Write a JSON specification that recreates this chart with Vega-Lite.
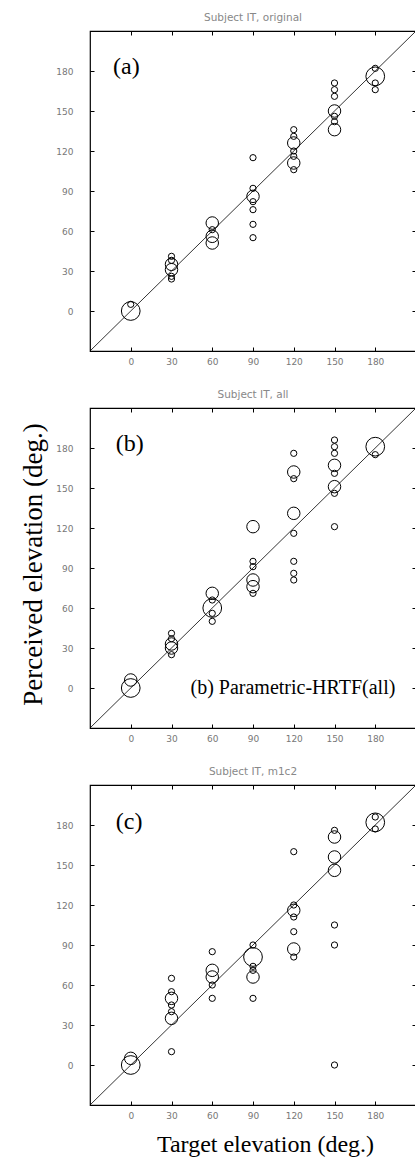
{
  "$schema": "https://vega.github.io/schema/vega-lite/v6.json",
  "background": "white",
  "padding": {"left": 18, "top": 12, "right": 0, "bottom": 0},
  "config": {
    "view": {"stroke": "black", "strokeWidth": 1.2},
    "axis": {"grid": false, "domain": false, "labelFont": "DejaVu Sans", "labelFontSize": 9, "labelColor": "#777", "tickColor": "black", "titleFont": "Liberation Serif", "titleFontWeight": "normal", "titleColor": "black"},
    "title": {"font": "DejaVu Sans", "fontSize": 10.5, "fontWeight": "normal", "color": "#888", "offset": 7}
  },
  "datasets": {
    "a": [
      {"t": 0, "p": 0, "n": 3}, {"t": 0, "p": 5, "n": 1},
      {"t": 30, "p": 41, "n": 1}, {"t": 30, "p": 38, "n": 1}, {"t": 30, "p": 35, "n": 2}, {"t": 30, "p": 31, "n": 2}, {"t": 30, "p": 26, "n": 1}, {"t": 30, "p": 24, "n": 1},
      {"t": 60, "p": 66, "n": 2}, {"t": 60, "p": 61, "n": 1}, {"t": 60, "p": 56, "n": 2}, {"t": 60, "p": 51, "n": 2},
      {"t": 90, "p": 115, "n": 1}, {"t": 90, "p": 92, "n": 1}, {"t": 90, "p": 86, "n": 2}, {"t": 90, "p": 82, "n": 1}, {"t": 90, "p": 76, "n": 1}, {"t": 90, "p": 65, "n": 1}, {"t": 90, "p": 55, "n": 1},
      {"t": 120, "p": 136, "n": 1}, {"t": 120, "p": 131, "n": 1}, {"t": 120, "p": 126, "n": 2}, {"t": 120, "p": 120, "n": 1}, {"t": 120, "p": 116, "n": 1}, {"t": 120, "p": 111, "n": 2}, {"t": 120, "p": 106, "n": 1},
      {"t": 150, "p": 171, "n": 1}, {"t": 150, "p": 166, "n": 1}, {"t": 150, "p": 161, "n": 1}, {"t": 150, "p": 150, "n": 2}, {"t": 150, "p": 146, "n": 1}, {"t": 150, "p": 142, "n": 1}, {"t": 150, "p": 136, "n": 2},
      {"t": 180, "p": 182, "n": 1}, {"t": 180, "p": 176, "n": 3}, {"t": 180, "p": 171, "n": 1}, {"t": 180, "p": 166, "n": 1}
    ],
    "b": [
      {"t": 0, "p": 0, "n": 3}, {"t": 0, "p": 6, "n": 2},
      {"t": 30, "p": 41, "n": 1}, {"t": 30, "p": 37, "n": 1}, {"t": 30, "p": 33, "n": 2}, {"t": 30, "p": 30, "n": 2}, {"t": 30, "p": 25, "n": 1},
      {"t": 60, "p": 71, "n": 2}, {"t": 60, "p": 66, "n": 1}, {"t": 60, "p": 60, "n": 3}, {"t": 60, "p": 56, "n": 1}, {"t": 60, "p": 50, "n": 1},
      {"t": 90, "p": 121, "n": 2}, {"t": 90, "p": 95, "n": 1}, {"t": 90, "p": 91, "n": 1}, {"t": 90, "p": 81, "n": 2}, {"t": 90, "p": 76, "n": 2}, {"t": 90, "p": 71, "n": 1},
      {"t": 120, "p": 176, "n": 1}, {"t": 120, "p": 162, "n": 2}, {"t": 120, "p": 157, "n": 1}, {"t": 120, "p": 131, "n": 2}, {"t": 120, "p": 116, "n": 1}, {"t": 120, "p": 95, "n": 1}, {"t": 120, "p": 86, "n": 1}, {"t": 120, "p": 81, "n": 1},
      {"t": 150, "p": 186, "n": 1}, {"t": 150, "p": 181, "n": 1}, {"t": 150, "p": 176, "n": 1}, {"t": 150, "p": 167, "n": 2}, {"t": 150, "p": 161, "n": 1}, {"t": 150, "p": 151, "n": 2}, {"t": 150, "p": 146, "n": 1}, {"t": 150, "p": 121, "n": 1},
      {"t": 180, "p": 181, "n": 3}, {"t": 180, "p": 175, "n": 1}
    ],
    "c": [
      {"t": 0, "p": 0, "n": 3}, {"t": 0, "p": 5, "n": 2},
      {"t": 30, "p": 65, "n": 1}, {"t": 30, "p": 55, "n": 1}, {"t": 30, "p": 50, "n": 2}, {"t": 30, "p": 45, "n": 1}, {"t": 30, "p": 40, "n": 1}, {"t": 30, "p": 35, "n": 2}, {"t": 30, "p": 10, "n": 1},
      {"t": 60, "p": 85, "n": 1}, {"t": 60, "p": 71, "n": 2}, {"t": 60, "p": 66, "n": 2}, {"t": 60, "p": 60, "n": 1}, {"t": 60, "p": 50, "n": 1},
      {"t": 90, "p": 90, "n": 1}, {"t": 90, "p": 81, "n": 3}, {"t": 90, "p": 74, "n": 1}, {"t": 90, "p": 71, "n": 1}, {"t": 90, "p": 66, "n": 2}, {"t": 90, "p": 50, "n": 1},
      {"t": 120, "p": 160, "n": 1}, {"t": 120, "p": 120, "n": 1}, {"t": 120, "p": 116, "n": 2}, {"t": 120, "p": 111, "n": 1}, {"t": 120, "p": 100, "n": 1}, {"t": 120, "p": 87, "n": 2}, {"t": 120, "p": 81, "n": 1},
      {"t": 150, "p": 176, "n": 1}, {"t": 150, "p": 171, "n": 2}, {"t": 150, "p": 156, "n": 2}, {"t": 150, "p": 146, "n": 2}, {"t": 150, "p": 105, "n": 1}, {"t": 150, "p": 90, "n": 1}, {"t": 150, "p": 0, "n": 1},
      {"t": 180, "p": 182, "n": 3}, {"t": 180, "p": 186, "n": 1}, {"t": 180, "p": 177, "n": 1}
    ]
  },
  "bounds": "flush",
  "spacing": 57,
  "vconcat": [
    {
      "width": 326, "height": 320,
      "title": "Subject IT, original",
      "resolve": {"axis": {"x": "independent", "y": "independent"}},
      "layer": [
        {
          "data": {"values": [{}]},
          "mark": {"type": "rule", "color": "black", "strokeWidth": 0.8},
          "encoding": {
            "x": {"datum": -30, "type": "quantitative", "scale": {"domain": [-30, 210], "nice": false, "zero": false}, "axis": {"orient": "top", "labels": false, "tickSize": -4, "values": [0, 30, 60, 90, 120, 150, 180], "title": null}},
            "y": {"datum": -30, "type": "quantitative", "scale": {"domain": [-30, 210], "nice": false, "zero": false}, "axis": {"orient": "right", "labels": false, "tickSize": -4, "values": [0, 30, 60, 90, 120, 150, 180], "title": null}},
            "x2": {"datum": 210},
            "y2": {"datum": 210}
          }
        },
        {
          "data": {"name": "a"},
          "mark": {"type": "point", "shape": "circle", "filled": false, "color": "black", "strokeWidth": 1, "opacity": 1},
          "encoding": {
            "x": {"field": "t", "type": "quantitative", "axis": {"orient": "bottom", "tickSize": -4, "labelPadding": 10, "values": [0, 30, 60, 90, 120, 150, 180], "title": null}},
            "y": {"field": "p", "type": "quantitative", "axis": {"orient": "left", "tickSize": -4, "labelPadding": 21, "values": [0, 30, 60, 90, 120, 150, 180], "title": null}},
            "size": {"field": "n", "type": "quantitative", "scale": {"type": "pow", "exponent": 2, "domain": [0, 3], "range": [0, 350]}, "legend": null}
          }
        },
        {
          "data": {"values": [{}]},
          "mark": {"type": "text", "font": "Liberation Serif", "fontSize": 24, "align": "left", "baseline": "middle", "color": "black"},
          "encoding": {
            "x": {"datum": -13, "type": "quantitative", "axis": null},
            "y": {"datum": 183, "type": "quantitative", "axis": null},
            "text": {"value": "(a)"}
          }
        }
      ]
    },
    {
      "width": 326, "height": 320,
      "title": "Subject IT, all",
      "resolve": {"axis": {"x": "independent", "y": "independent"}},
      "layer": [
        {
          "data": {"values": [{}]},
          "mark": {"type": "rule", "color": "black", "strokeWidth": 0.8},
          "encoding": {
            "x": {"datum": -30, "type": "quantitative", "scale": {"domain": [-30, 210], "nice": false, "zero": false}, "axis": {"orient": "top", "labels": false, "tickSize": -4, "values": [0, 30, 60, 90, 120, 150, 180], "title": null}},
            "y": {"datum": -30, "type": "quantitative", "scale": {"domain": [-30, 210], "nice": false, "zero": false}, "axis": {"orient": "right", "labels": false, "tickSize": -4, "values": [0, 30, 60, 90, 120, 150, 180], "title": null}},
            "x2": {"datum": 210},
            "y2": {"datum": 210}
          }
        },
        {
          "data": {"name": "b"},
          "mark": {"type": "point", "shape": "circle", "filled": false, "color": "black", "strokeWidth": 1, "opacity": 1},
          "encoding": {
            "x": {"field": "t", "type": "quantitative", "axis": {"orient": "bottom", "tickSize": -4, "labelPadding": 10, "values": [0, 30, 60, 90, 120, 150, 180], "title": null}},
            "y": {"field": "p", "type": "quantitative", "axis": {"orient": "left", "tickSize": -4, "labelPadding": 21, "values": [0, 30, 60, 90, 120, 150, 180], "title": "Perceived elevation (deg.)", "titleFontSize": 27, "titleX": -57, "titleY": 156, "titleAngle": -90, "titleAlign": "center", "titleBaseline": "middle"}},
            "size": {"field": "n", "type": "quantitative", "scale": {"type": "pow", "exponent": 2, "domain": [0, 3], "range": [0, 350]}, "legend": null}
          }
        },
        {
          "data": {"values": [{}]},
          "mark": {"type": "text", "font": "Liberation Serif", "fontSize": 24, "align": "left", "baseline": "middle", "color": "black"},
          "encoding": {
            "x": {"datum": -11, "type": "quantitative", "axis": null},
            "y": {"datum": 183, "type": "quantitative", "axis": null},
            "text": {"value": "(b)"}
          }
        },
        {
          "data": {"values": [{}]},
          "mark": {"type": "text", "font": "Liberation Serif", "fontSize": 20, "align": "left", "baseline": "middle", "color": "black"},
          "encoding": {
            "x": {"datum": 44, "type": "quantitative", "axis": null},
            "y": {"datum": 0, "type": "quantitative", "axis": null},
            "text": {"value": "(b) Parametric-HRTF(all)"}
          }
        }
      ]
    },
    {
      "width": 326, "height": 320,
      "title": "Subject IT, m1c2",
      "resolve": {"axis": {"x": "independent", "y": "independent"}},
      "layer": [
        {
          "data": {"values": [{}]},
          "mark": {"type": "rule", "color": "black", "strokeWidth": 0.8},
          "encoding": {
            "x": {"datum": -30, "type": "quantitative", "scale": {"domain": [-30, 210], "nice": false, "zero": false}, "axis": {"orient": "top", "labels": false, "tickSize": -4, "values": [0, 30, 60, 90, 120, 150, 180], "title": null}},
            "y": {"datum": -30, "type": "quantitative", "scale": {"domain": [-30, 210], "nice": false, "zero": false}, "axis": {"orient": "right", "labels": false, "tickSize": -4, "values": [0, 30, 60, 90, 120, 150, 180], "title": null}},
            "x2": {"datum": 210},
            "y2": {"datum": 210}
          }
        },
        {
          "data": {"name": "c"},
          "mark": {"type": "point", "shape": "circle", "filled": false, "color": "black", "strokeWidth": 1, "opacity": 1},
          "encoding": {
            "x": {"field": "t", "type": "quantitative", "axis": {"orient": "bottom", "tickSize": -4, "labelPadding": 10, "values": [0, 30, 60, 90, 120, 150, 180], "title": "Target elevation (deg.)", "titleFontSize": 24, "titleX": 175, "titleY": 39, "titleAlign": "center", "titleBaseline": "middle"}},
            "y": {"field": "p", "type": "quantitative", "axis": {"orient": "left", "tickSize": -4, "labelPadding": 21, "values": [0, 30, 60, 90, 120, 150, 180], "title": null}},
            "size": {"field": "n", "type": "quantitative", "scale": {"type": "pow", "exponent": 2, "domain": [0, 3], "range": [0, 350]}, "legend": null}
          }
        },
        {
          "data": {"values": [{}]},
          "mark": {"type": "text", "font": "Liberation Serif", "fontSize": 24, "align": "left", "baseline": "middle", "color": "black"},
          "encoding": {
            "x": {"datum": -11, "type": "quantitative", "axis": null},
            "y": {"datum": 182, "type": "quantitative", "axis": null},
            "text": {"value": "(c)"}
          }
        }
      ]
    }
  ]
}
